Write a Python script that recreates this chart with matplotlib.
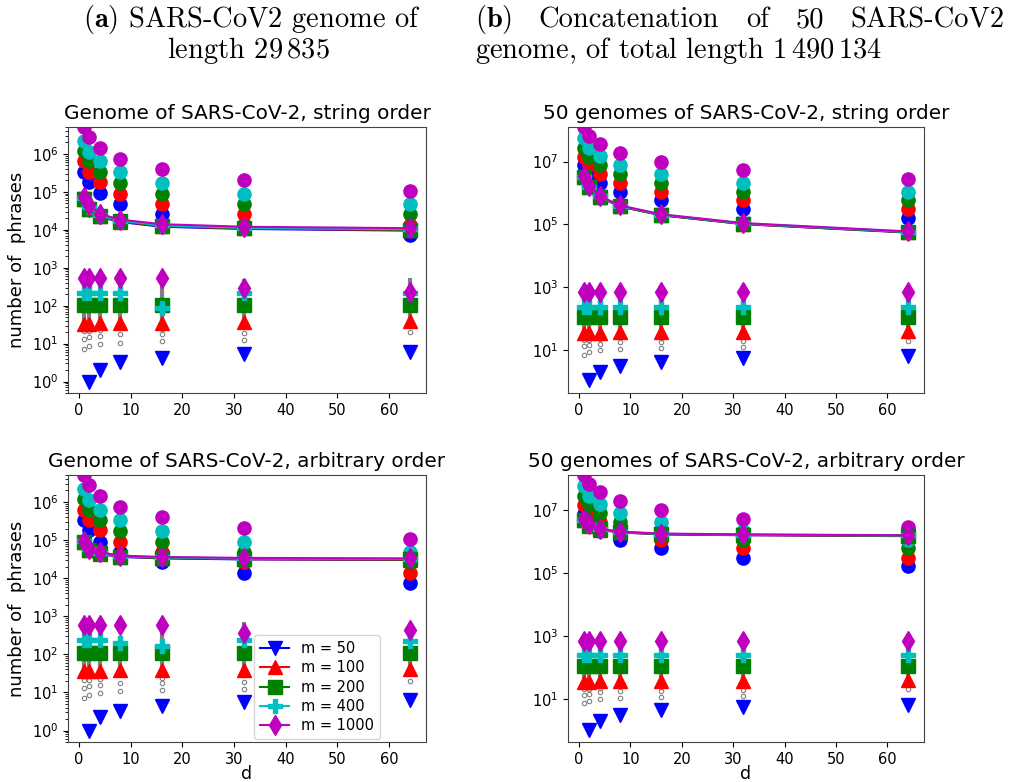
import numpy as np
import matplotlib
matplotlib.use("Agg")
from matplotlib import pyplot as plt
from matplotlib.ticker import NullLocator, FixedLocator

# data

d = [1, 2, 4, 8, 16, 32, 64]
m_values = [50, 100, 200, 400, 1000]
colors = ['b', 'r', 'g', 'c', 'm']
markers = ['v', '^', 's', 'P', 'd']
nan = np.nan

# circles (one row per m), single genome / 50 genomes
bound_a = [[3.3e5, 1.8e5, 9.1e4, 4.8e4, 2.6e4, 1.35e4, 7.4e3],
           [6.3e5, 3.3e5, 1.8e5, 9.0e4, 4.8e4, 2.6e4, 1.35e4],
           [1.2e6, 6.3e5, 3.3e5, 1.75e5, 9.0e4, 4.8e4, 2.6e4],
           [2.2e6, 1.15e6, 6.3e5, 3.3e5, 1.75e5, 9.0e4, 4.8e4],
           [5.1e6, 2.75e6, 1.4e6, 7.4e5, 4.0e5, 2.1e5, 1.07e5]]
bound_b = [[7.5e6, 3.9e6, 2.1e6, 1.1e6, 6.0e5, 3.0e5, 1.6e5],
           [1.4e7, 7.5e6, 4.1e6, 2.1e6, 1.1e6, 6.0e5, 3.0e5],
           [2.8e7, 1.45e7, 7.7e6, 4.0e6, 2.1e6, 1.1e6, 6.0e5],
           [5.6e7, 2.8e7, 1.5e7, 7.7e6, 4.1e6, 2.1e6, 1.1e6],
           [1.3e8, 6.6e7, 3.6e7, 1.85e7, 9.8e6, 5.2e6, 2.8e6]]

# number of phrases (lines)
phr_a_str = [[6.3e4, 3.4e4, 2.2e4, 1.6e4, 1.2e4, 1.05e4, 9.5e3],
             [6.4e4, 3.5e4, 2.25e4, 1.65e4, 1.25e4, 1.08e4, 9.8e3],
             [6.6e4, 3.6e4, 2.3e4, 1.7e4, 1.27e4, 1.1e4, 1.0e4],
             [7.0e4, 4.0e4, 2.4e4, 1.75e4, 1.3e4, 1.12e4, 1.03e4],
             [7.4e4, 4.6e4, 2.6e4, 1.85e4, 1.4e4, 1.2e4, 1.1e4]]
phr_a_arb = [[8.5e4, 5.2e4, 4.3e4, 3.6e4, 3.3e4, 3.1e4, 3.0e4],
             [8.7e4, 5.4e4, 4.4e4, 3.7e4, 3.4e4, 3.15e4, 3.05e4],
             [8.9e4, 5.5e4, 4.5e4, 3.7e4, 3.4e4, 3.2e4, 3.1e4],
             [9.2e4, 5.8e4, 4.6e4, 3.8e4, 3.5e4, 3.3e4, 3.2e4],
             [9.5e4, 6.0e4, 4.8e4, 3.9e4, 3.6e4, 3.4e4, 3.3e4]]
phr_b_str = [[3.1e6, 1.5e6, 7.4e5, 3.7e5, 1.95e5, 1.02e5, 5.5e4],
             [3.15e6, 1.52e6, 7.5e5, 3.75e5, 1.97e5, 1.03e5, 5.6e4],
             [3.2e6, 1.56e6, 7.6e5, 3.8e5, 2.0e5, 1.05e5, 5.7e4],
             [3.3e6, 1.6e6, 7.8e5, 3.9e5, 2.05e5, 1.07e5, 5.8e4],
             [3.5e6, 1.7e6, 8.0e5, 4.0e5, 2.1e5, 1.1e5, 6.0e4]]
phr_b_arb = [[4.5e6, 3.1e6, 2.3e6, 1.9e6, 1.65e6, 1.55e6, 1.45e6],
             [4.6e6, 3.15e6, 2.35e6, 1.92e6, 1.67e6, 1.57e6, 1.47e6],
             [4.7e6, 3.2e6, 2.4e6, 1.95e6, 1.7e6, 1.6e6, 1.5e6],
             [4.8e6, 3.3e6, 2.45e6, 1.97e6, 1.72e6, 1.62e6, 1.52e6],
             [5.0e6, 3.4e6, 2.5e6, 2.0e6, 1.75e6, 1.65e6, 1.55e6]]

# lower markers
low_a_str = [[nan, 1.0, 2.0, 3.2, 4.3, 5.4, 6.2],
             [33, 33, 34, 35, 35, 37, 40],
             [105, 105, 105, 105, 105, 105, 105],
             [220, 220, 220, 215, 88, 215, 220],
             [530, 530, 530, 530, 530, 290, 235]]
low_a_arb = [[nan, 1.0, 2.2, 3.2, 4.4, 5.5, 6.4],
             [36, 36, 37, 38, 38, 38, 40],
             [108, 108, 108, 108, 108, 108, 108],
             [240, 240, 240, 200, 165, 240, 230],
             [575, 575, 575, 575, 575, 360, 445]]
low_b_str = [[nan, 1.1, 2.0, 3.2, 4.2, 5.4, 6.3],
             [35, 35, 36, 37, 37, 37, 40],
             [110, 110, 110, 110, 110, 110, 110],
             [240, 240, 240, 240, 240, 240, 240],
             [690, 690, 690, 690, 690, 690, 690]]
low_b_arb = [[nan, 1.0, 2.0, 3.2, 4.3, 5.5, 6.4],
             [35, 35, 36, 37, 37, 37, 40],
             [110, 110, 110, 110, 110, 110, 110],
             [240, 240, 240, 240, 240, 240, 240],
             [690, 690, 690, 690, 690, 690, 690]]

# small grey circles and grey band
grey_pts = [[7.2, 13, 21], [8.4, 14.5, 21], [9.7, 16, 23], [10.7, 18],
            [11.8, 18, 24], [12.5, 19], [20]]
grey_low = [25, 25, 25, 25, 28, 28, 28]
grey_top_a_str = [220, 220, 220, 220, 530, 500, 520]
grey_top_a_arb = [240, 240, 240, 240, 575, 700, 450]
grey_top_b = [240, 240, 240, 240, 240, 240, 240]

titles = ["Genome of SARS-CoV-2, string order",
          "50 genomes of SARS-CoV-2, string order",
          "Genome of SARS-CoV-2, arbitrary order",
          "50 genomes of SARS-CoV-2, arbitrary order"]


def draw(ax, phrases, bounds, lows, grey_top):
    ax.vlines(d, grey_low, grey_top, colors='grey', lw=3, zorder=1)
    for i in range(len(m_values)):
        ax.plot(d, phrases[i], marker=markers[i], color=colors[i], ms=10,
                lw=1.5, label='m = %d' % m_values[i], zorder=3)
        ax.plot(d, bounds[i], 'o', color=colors[i], ms=9.5, zorder=2)
        ax.plot(d, lows[i], markers[i], color=colors[i], ms=10, zorder=3)
    for x, ys in zip(d, grey_pts):
        ax.plot([x] * len(ys), ys, 'o', mfc='none', mec='grey', ms=3.2,
                mew=0.8, zorder=2)
    ax.set_yscale('log')
    ax.set_xticks([0, 10, 20, 30, 40, 50, 60])
    ax.tick_params(labelsize=10.5)
    for s in ax.spines.values():
        s.set_color('#444444')


fig = plt.figure(figsize=(10.25, 7.82), dpi=100)
W, H = 1025, 782


def axes_px(l, t, r, b):
    return fig.add_axes([l / W, 1 - b / H, (r - l) / W, (b - t) / H])


ax1 = axes_px(68, 127, 426, 393)
ax2 = axes_px(568, 127, 924, 393)
ax3 = axes_px(68, 475, 426, 742)
ax4 = axes_px(568, 475, 924, 742)

draw(ax1, phr_a_str, bound_a, low_a_str, grey_top_a_str)
draw(ax2, phr_b_str, bound_b, low_b_str, grey_top_b)
draw(ax3, phr_a_arb, bound_a, low_a_arb, grey_top_a_arb)
draw(ax4, phr_b_arb, bound_b, low_b_arb, grey_top_b)

for ax, t in zip([ax1, ax2, ax3, ax4], titles):
    ax.set_title(t, fontsize=14.4)

for ax in [ax1, ax3]:
    ax.set_ylim(0.5, 5.1e6)
    ax.set_ylabel('number of  phrases', fontsize=13)
for ax in [ax2, ax4]:
    ax.set_ylim(0.43, 1.26e8)
    ax.yaxis.set_major_locator(FixedLocator([1e1, 1e3, 1e5, 1e7]))
    ax.yaxis.set_minor_locator(NullLocator())
for ax in [ax3, ax4]:
    ax.set_xlabel('d', fontsize=12.5, labelpad=-1)

ax3.legend(loc='lower left', bbox_to_anchor=(0.52, 0.01), fontsize=10.5,
           borderaxespad=0, labelspacing=0.3)

# headers
hdr = dict(family='cmr10', math_fontfamily='cm', fontsize=20.5, va='center')
fig.text(252 / W, 1 - 20 / H, r"$\mathbf{(a)}$ SARS-CoV2 genome of",
         ha='center', **hdr)
fig.text(248 / W, 1 - 50 / H, r"length $29\,835$", ha='center', **hdr)
fig.text(475 / W, 1 - 50 / H, r"genome, of total length $1\,490\,134$",
         ha='left', **hdr)

# first line of (b) is justified between x=475 and x=1005
words = [r"$\mathbf{(b)}$", "Concatenation", "of", "50", "SARS-CoV2"]
word_txt = [fig.text(0, 1 - 20 / H, w, ha='left', **hdr) for w in words]
renderer = fig.canvas.get_renderer()
widths = [t.get_window_extent(renderer).width for t in word_txt]
gap = (1005 - 475 - sum(widths)) / (len(words) - 1)
x = 475
for t, w in zip(word_txt, widths):
    t.set_x(x / W)
    x += w + gap

fig.savefig('out.png', dpi=100)
